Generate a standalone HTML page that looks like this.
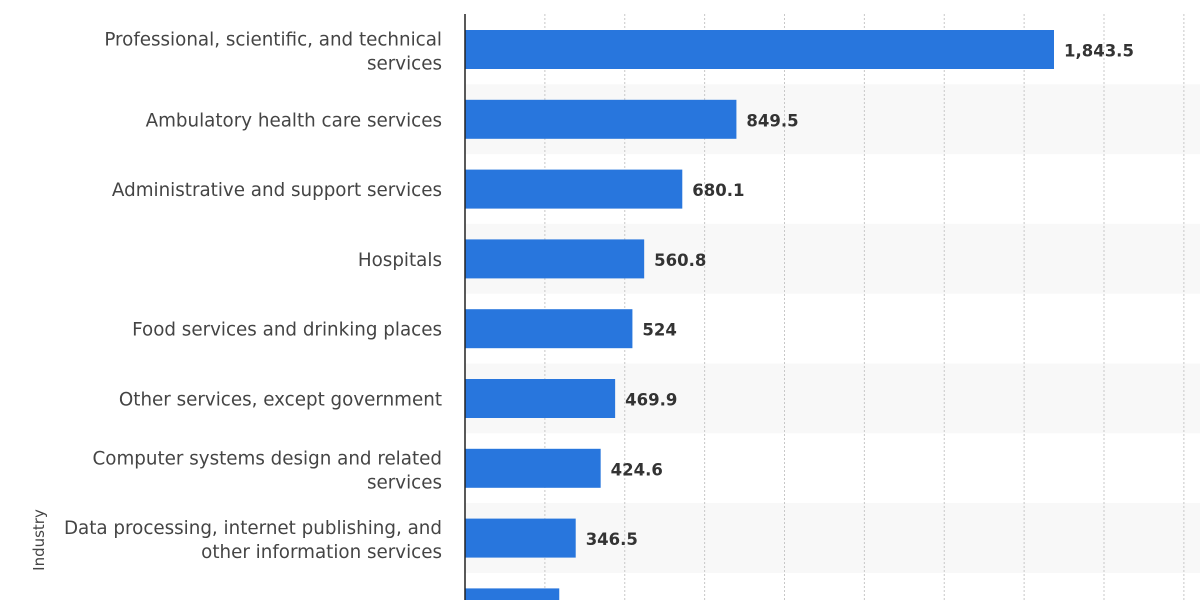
<!DOCTYPE html>
<html><head><meta charset="utf-8"><style>
body{margin:0;background:#fff;width:1200px;height:600px;overflow:hidden;font-family:"DejaVu Sans","Liberation Sans",sans-serif}
</style></head><body>
<svg id="chart" width="1200" height="600" xmlns="http://www.w3.org/2000/svg" font-family="DejaVu Sans, Liberation Sans, sans-serif"></svg>
<script>
const categories=[["Professional, scientific, and technical","services"],["Ambulatory health care services"],["Administrative and support services"],["Hospitals"],["Food services and drinking places"],["Other services, except government"],["Computer systems design and related","services"],["Data processing, internet publishing, and","other information services"],[""]];
const values=[1843.5,849.5,680.1,560.8,524,469.9,424.6,346.5,295];
const valueLabels=["1,843.5","849.5","680.1","560.8","524","469.9","424.6","346.5",""];
const gridTicks=[250,500,750,1000,1250,1500,1750,2000,2250];
const svg=document.getElementById('chart');
const NS='http://www.w3.org/2000/svg';
const x0=465,scale=0.3195,rowH=69.8,firstC=49.5;
const xs=v=>x0+v*scale, yc=i=>firstC+i*rowH;
function mk(t,a){const e=document.createElementNS(NS,t);for(const k in a)e.setAttribute(k,a[k]);svg.appendChild(e);return e;}
categories.forEach((c,i)=>{if(i%2===1){const b=mk('rect',{x:x0,y:yc(i)-35,width:1200-x0,height:rowH,fill:'#f8f8f8'});

}});
gridTicks.forEach(t=>{const g=mk('line',{x1:xs(t),x2:xs(t),y1:14,y2:600,stroke:'#c8c8c8','stroke-width':1,'stroke-dasharray':'2,2'});

});
categories.forEach((c,i)=>{
const r=mk('rect',{x:x0,y:yc(i)-19.5,width:xs(values[i])-x0,height:39,fill:'#2876dd'});


if(valueLabels[i]){const t=mk('text',{x:xs(values[i])+10,y:yc(i)+7,'font-size':16.5,'font-weight':'bold',fill:'#333'});t.textContent=valueLabels[i];

}
c.forEach((ln,j)=>{if(!ln)return;const off=c.length===1?7:(j===0?-4:20);
const t=mk('text',{x:442,y:yc(i)+off,'font-size':18.3,fill:'#444','text-anchor':'end'});t.textContent=ln;

});
});
const ax=mk('line',{x1:x0,x2:x0,y1:14,y2:600,stroke:'#222','stroke-width':1.5});


const ti=mk('text',{x:44,y:540,'font-size':15,fill:'#444','text-anchor':'middle',transform:'rotate(-90 44 540)'});ti.textContent='Industry';


</script>
</body></html>
